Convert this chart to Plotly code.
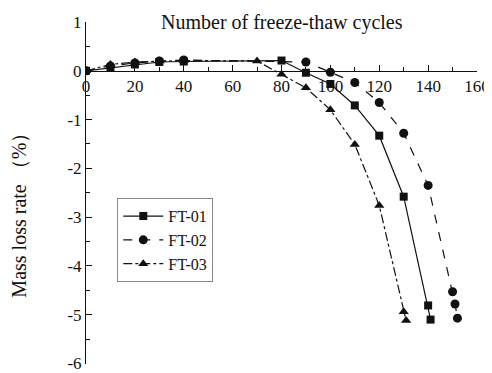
import plotly.graph_objects as go

cycles_01 = [0, 10, 20, 30, 40, 80, 90, 100, 110, 120, 130, 140, 141]
loss_01 = [0, 0.06, 0.13, 0.18, 0.19, 0.21, -0.04, -0.27, -0.71, -1.33, -2.58, -4.81, -5.10]

cycles_02 = [0, 10, 20, 30, 40, 90, 100, 110, 120, 130, 140, 150, 151, 152]
loss_02 = [0, 0.10, 0.16, 0.20, 0.22, 0.18, -0.03, -0.24, -0.65, -1.28, -2.35, -4.53, -4.78, -5.07]

cycles_03 = [0, 10, 20, 30, 40, 70, 80, 90, 100, 110, 120, 130, 131]
loss_03 = [0, 0.13, 0.18, 0.20, 0.21, 0.20, -0.07, -0.35, -0.80, -1.51, -2.76, -4.94, -5.12]

names = ["FT-01", "FT-02", "FT-03"]

y_ticks = [1, 0, -1, -2, -3, -4, -5, -6]
y_tick_labels = ["1", "0", "-1", "-2", "-3", "-4", "-5", "-6"]
x_ticks = [0, 20, 40, 60, 80, 100, 120, 140, 160]

FONT = "Liberation Serif, Times New Roman, serif"
C = "#111111"

fig = go.Figure()
fig.add_trace(go.Scatter(x=cycles_01, y=loss_01, name=names[0], mode="lines+markers",
                         line=dict(color=C, width=1.2, dash="solid"),
                         marker=dict(symbol="square", size=8, color=C)))
fig.add_trace(go.Scatter(x=cycles_02, y=loss_02, name=names[1], mode="lines+markers",
                         line=dict(color=C, width=1.2, dash="dash"),
                         marker=dict(symbol="circle", size=9, color=C)))
fig.add_trace(go.Scatter(x=cycles_03, y=loss_03, name=names[2], mode="lines+markers",
                         line=dict(color=C, width=1.2, dash="dashdot"),
                         marker=dict(symbol="triangle-up", size=9, color=C)))

# page body has an 8px margin, so the figure is sized/offset to compensate
fig.update_layout(
    width=484, height=373,
    margin=dict(l=78, r=15, t=14, b=17),
    paper_bgcolor="white", plot_bgcolor="white",
    font=dict(family=FONT, size=16, color=C),
    showlegend=True,
    legend=dict(x=0.08, y=0.485, xanchor="left", yanchor="top",
                bordercolor="#888888", borderwidth=1, bgcolor="white",
                font=dict(family=FONT, size=16, color=C),
                itemwidth=40, tracegroupgap=0),
    xaxis=dict(range=[0, 160], tickvals=x_ticks, showgrid=False, zeroline=False,
               showline=True, linecolor=C, linewidth=1, automargin=False,
               ticks="inside", ticklen=6, tickcolor=C,
               minor=dict(dtick=10, ticks="inside", ticklen=4, tickcolor=C),
               anchor="free", position=6/7,
               tickfont=dict(family=FONT, size=17, color=C)),
    yaxis=dict(range=[-6.01, 1], tickvals=y_ticks, ticktext=y_tick_labels,
               showgrid=False, zeroline=False, automargin=False,
               showline=True, linecolor=C, linewidth=1,
               ticks="inside", ticklen=6, tickcolor=C, ticklabeloverflow="allow",
               minor=dict(dtick=0.5, ticks="inside", ticklen=4, tickcolor=C),
               tickfont=dict(family=FONT, size=17, color=C)),
    annotations=[
        dict(text="Number of freeze-thaw cycles", xref="paper", yref="paper",
             x=0.5, y=1.0, xanchor="center", yanchor="middle", showarrow=False,
             font=dict(family=FONT, size=20, color=C)),
        dict(text="Mass loss rate （%）", xref="paper", yref="paper",
             x=-0.17, y=0.45, xanchor="center", yanchor="middle", showarrow=False,
             textangle=-90, font=dict(family=FONT, size=20, color=C)),
    ],
)

fig.write_html("out.html")
